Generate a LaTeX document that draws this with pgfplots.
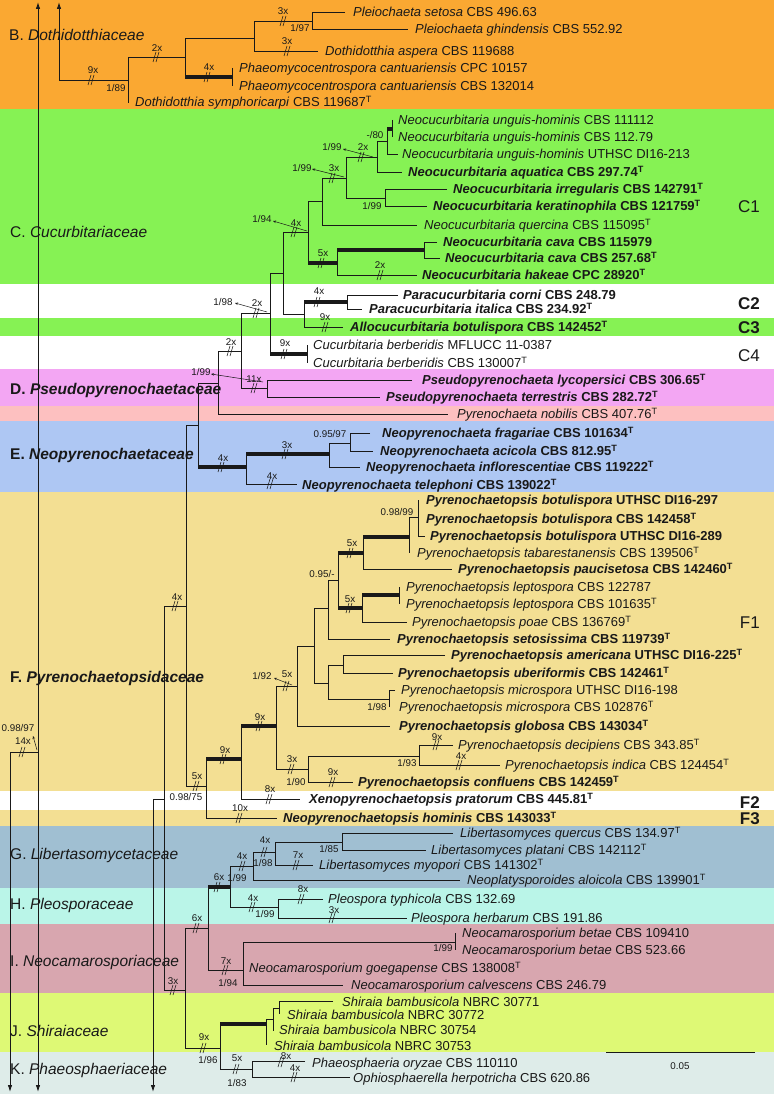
\documentclass[border=0pt]{standalone}
\usepackage{pgfplots}
\pgfplotsset{compat=1.18}
\usepackage{fontspec}
\setmainfont{Liberation Sans}
\usetikzlibrary{arrows.meta}
\definecolor{bB}{RGB}{250,168,50}
\definecolor{bC}{RGB}{134,242,84}
\definecolor{bD}{RGB}{243,166,243}
\definecolor{bDp}{RGB}{253,192,192}
\definecolor{bE}{RGB}{174,199,243}
\definecolor{bF}{RGB}{243,223,147}
\definecolor{bG}{RGB}{160,191,210}
\definecolor{bH}{RGB}{186,245,232}
\definecolor{bI}{RGB}{216,166,175}
\definecolor{bJ}{RGB}{222,249,117}
\definecolor{bK}{RGB}{222,236,233}
\definecolor{ink}{RGB}{25,25,25}
\tikzset{
  br/.style={line width=0.9pt,color=ink},
  tk/.style={line width=3.6pt,color=ink,line cap=butt},
  lbl/.style={anchor=base west,inner sep=0pt,yshift=-4.6pt,text=ink,font=\fontsize{13}{15}\selectfont},
  sup/.style={anchor=center,inner sep=0pt,text=ink,font=\fontsize{9.8}{11}\selectfont},
  fam/.style={anchor=base west,inner sep=0pt,yshift=-5.5pt,text=ink,font=\fontsize{15.5}{18}\selectfont},
  cl/.style={anchor=base east,inner sep=0pt,yshift=-6pt,text=ink,font=\fontsize{17}{20}\selectfont},
  sarr/.style={line width=0.5pt,color=ink,-{Stealth[length=3pt,width=2.5pt]}}
}
\pgfdeclareplotmark{dslash}{%
  \pgfpathmoveto{\pgfpoint{-3pt}{-5pt}}\pgfpathlineto{\pgfpoint{0pt}{5pt}}%
  \pgfpathmoveto{\pgfpoint{0pt}{-5pt}}\pgfpathlineto{\pgfpoint{3pt}{5pt}}%
  \pgfusepathqstroke}
\newcommand{\ty}{\textsuperscript{T}}
\newcommand{\nd}[5]{\addplot[br] coordinates {(#2,#3)(#1,#3)(#1,#4)(#5,#4)};}
\newcommand{\sg}[4]{\addplot[br] coordinates {(#1,#2)(#3,#4)};}
\newcommand{\tk}[3]{\addplot[tk] coordinates {(#1,#3)(#2,#3)};}
\newcommand{\band}[3]{\addplot[fill=#1,draw=none] coordinates {(0,#2)(774,#2)(774,#3)(0,#3)};}
\newcommand{\tx}[3]{\node[lbl] at (axis cs:#1,#2) {#3};}
\newcommand{\tb}[3]{\node[lbl,font=\fontsize{13}{15}\selectfont\bfseries] at (axis cs:#1,#2) {#3};}
\newcommand{\sm}[3]{\node[sup] at (axis cs:#1,#2) {#3};}
\begin{document}
\begin{tikzpicture}
\begin{axis}[width=774pt,height=1094pt,scale only axis,xmin=0,xmax=774,ymin=0,ymax=1094,y dir=reverse,hide axis,clip=false]
% bands
\band{bB}{0}{109}
\band{bC}{109}{284}
\band{white}{284}{318}
\band{bC}{318}{336}
\band{white}{336}{369}
\band{bD}{369}{406}
\band{bDp}{406}{421}
\band{bE}{421}{492}
\band{bF}{492}{791}
\band{white}{791}{810}
\band{bF}{810}{826}
\band{bG}{826}{888}
\band{bH}{888}{924}
\band{bI}{924}{993}
\band{bJ}{993}{1052}
\band{bK}{1052}{1094}
% root lines
\addplot[br,{Latex[length=7pt,width=4.5pt]}-{Latex[length=7pt,width=4.5pt]}] coordinates {(38,2)(38,1092)};
\addplot[br,{Latex[length=7pt,width=4.5pt]}-] coordinates {(59,2)(59,80)};
\addplot[br,-{Latex[length=7pt,width=4.5pt]}] coordinates {(10,752)(10,1092)};
\addplot[br,-{Latex[length=7pt,width=4.5pt]}] coordinates {(153,799)(153,1092)};
\sg{10}{752}{38}{752}
% B
\sg{59}{80}{128}{80}
\nd{128}{185}{57}{103}{128}
\nd{185}{254}{38}{77}{232}\tk{185}{232}{77}
\sg{232}{68}{232}{86}
\nd{254}{312}{21}{51}{318}
\nd{312}{345}{12}{29}{408}
% C
\sg{392}{120}{392}{137}
\nd{387}{392}{129}{154}{398}\tk{387}{392}{129}
\nd{377}{387}{141}{172}{402}
\nd{346}{377}{157}{198}{385}
\nd{385}{447}{189}{206}{427}
\nd{322}{346}{178}{225}{417}
\nd{308}{322}{201}{263}{337}\tk{308}{337}{263}
\nd{337}{424}{250}{275}{417}\tk{337}{424}{250}
\nd{424}{437}{242}{258}{440}
\nd{283}{308}{232}{314}{304}
\nd{304}{347}{302}{327}{343}\tk{304}{347}{302}
\nd{347}{398}{295}{309}{362}
\nd{270}{283}{273}{354}{307}\tk{270}{307}{354}
\sg{307}{345}{307}{363}
% D
\nd{241}{270}{313}{388}{267}
\nd{267}{412}{380}{397}{380}
\nd{218}{241}{351}{414}{448}
\nd{198}{218}{383}{467}{246}\tk{198}{246}{467}
% E
\nd{246}{329}{454}{484}{297}\tk{246}{329}{454}
\nd{329}{350}{443}{467}{360}
\nd{350}{370}{433}{451}{373}
% F
\nd{186}{198}{425}{786}{206}
\sg{164}{606}{186}{606}
\nd{164}{186}{606}{990}{185}
\sg{153}{799}{164}{799}
\nd{206}{241}{759}{818}{277}\tk{206}{241}{759}
\nd{241}{276}{726}{799}{300}\tk{241}{276}{726}
\nd{276}{297}{686}{769}{308}
\nd{308}{419}{756}{782}{353}
\nd{419}{453}{745}{765}{500}
\nd{297}{314}{646}{726}{390}
\nd{314}{328}{608}{683}{328}
\nd{328}{343}{665}{699}{389}
\nd{343}{445}{655}{673}{393}
\nd{389}{395}{690}{707}{389}
\nd{328}{338}{580}{639}{390}
\nd{338}{363}{553}{608}{362}\tk{338}{363}{553}\tk{338}{362}{608}
\nd{363}{409}{537}{569}{452}\tk{363}{409}{537}
\nd{409}{418}{517}{553}{409}
\nd{418}{418}{500}{536}{425}
\nd{362}{399}{595}{622}{407}\tk{362}{399}{595}
\sg{399}{587}{399}{604}
% G-K
\nd{185}{208}{928}{1048}{220}
\nd{208}{230}{887}{970}{243}\tk{208}{230}{887}
\nd{230}{253}{866}{907}{278}
\nd{253}{275}{852}{880}{460}
\nd{275}{342}{842}{865}{313}
\nd{342}{453}{833}{850}{426}
\nd{278}{323}{899}{918}{407}
\nd{243}{455}{942}{985}{343}
\sg{455}{933}{455}{950}
\nd{220}{266}{1024}{1069}{252}\tk{220}{266}{1024}
\nd{266}{273}{1019}{1045}{266}
\nd{273}{279}{1008}{1031}{273}
\nd{279}{333}{1001}{1014}{279}
\nd{252}{305}{1061}{1077}{350}
% scale bar
\addplot[br] coordinates {(606,1052)(755,1052)};
% branch breaks
\addplot[only marks,mark=dslash,line width=0.55pt,color=ink] coordinates {
(283,21)(287,51)(156,57)(91,80)(207,77)
(361,157)(332,178)(294,232)(321,263)(380,275)(317,302)(325,327)(284,354)(256,313)
(254,388)(230,351)
(285,454)(221,467)(270,484)
(350,553)(349,608)(286,686)(259,726)(223,759)(291,769)(332,782)(436,745)(459,765)(269,799)(239,818)(196,786)(175,606)(22,752)
(173,990)(196,928)(203,1048)(217,887)(225,970)(242,866)(252,907)(264,852)(296,865)(301,899)(332,918)(236,1069)(281,1062)(294,1077)};
% support arrows
\addplot[sarr] coordinates {(373,157)(343,149)};
\addplot[sarr] coordinates {(344,177)(312,169)};
\addplot[sarr] coordinates {(307,231)(273,221)};
\addplot[sarr] coordinates {(267,312)(235,303)};
\addplot[sarr] coordinates {(263,382)(211,374)};
\addplot[sarr] coordinates {(292,685)(274,678)};
\addplot[sarr] coordinates {(37,750)(33,736)};
% family labels
\node[fam] at (axis cs:9,35) {B. \textit{Dothidotthiaceae}};
\node[fam] at (axis cs:10,232) {C. \textit{Cucurbitariaceae}};
\node[fam,font=\fontsize{15.5}{18}\selectfont\bfseries] at (axis cs:10,389) {D. \textit{Pseudopyrenochaetaceae}};
\node[fam,font=\fontsize{15.5}{18}\selectfont\bfseries] at (axis cs:10,454) {E. \textit{Neopyrenochaetaceae}};
\node[fam,font=\fontsize{15.5}{18}\selectfont\bfseries] at (axis cs:10,677) {F. \textit{Pyrenochaetopsidaceae}};
\node[fam] at (axis cs:10,854) {G. \textit{Libertasomycetaceae}};
\node[fam] at (axis cs:10,904) {H. \textit{Pleosporaceae}};
\node[fam] at (axis cs:10,961) {I. \textit{Neocamarosporiaceae}};
\node[fam] at (axis cs:10,1031) {J. \textit{Shiraiaceae}};
\node[fam] at (axis cs:10,1069) {K. \textit{Phaeosphaeriaceae}};
% clade labels
\node[cl] at (axis cs:760,206) {C1};
\node[cl,font=\fontsize{17}{20}\selectfont\bfseries] at (axis cs:760,303) {C2};
\node[cl,font=\fontsize{17}{20}\selectfont\bfseries] at (axis cs:760,327) {C3};
\node[cl] at (axis cs:760,355) {C4};
\node[cl] at (axis cs:760,622) {F1};
\node[cl,font=\fontsize{17}{20}\selectfont\bfseries] at (axis cs:760,802) {F2};
\node[cl,font=\fontsize{17}{20}\selectfont\bfseries] at (axis cs:760,818) {F3};
% taxa B
\tx{353}{12}{\textit{Pleiochaeta setosa} CBS 496.63}
\tx{415}{29}{\textit{Pleiochaeta ghindensis} CBS 552.92}
\tx{325}{51}{\textit{Dothidotthia aspera} CBS 119688}
\tx{239}{68}{\textit{Phaeomycocentrospora cantuariensis} CPC 10157}
\tx{239}{86}{\textit{Phaeomycocentrospora cantuariensis} CBS 132014}
\tx{135}{102}{\textit{Dothidotthia symphoricarpi} CBS 119687\ty}
% taxa C
\tx{398}{120}{\textit{Neocucurbitaria unguis-hominis} CBS 111112}
\tx{398}{137}{\textit{Neocucurbitaria unguis-hominis} CBS 112.79}
\tx{402}{154}{\textit{Neocucurbitaria unguis-hominis} UTHSC DI16-213}
\tb{408}{172}{\textit{Neocucurbitaria aquatica} CBS 297.74\ty}
\tb{453}{189}{\textit{Neocucurbitaria irregularis} CBS 142791\ty}
\tb{433}{206}{\textit{Neocucurbitaria keratinophila} CBS 121759\ty}
\tx{424}{225}{\textit{Neocucurbitaria quercina} CBS 115095\ty}
\tb{443}{242}{\textit{Neocucurbitaria cava} CBS 115979}
\tb{445}{258}{\textit{Neocucurbitaria cava} CBS 257.68\ty}
\tb{422}{275}{\textit{Neocucurbitaria hakeae} CPC 28920\ty}
\tb{403}{295}{\textit{Paracucurbitaria corni} CBS 248.79}
\tb{369}{309}{\textit{Paracucurbitaria italica} CBS 234.92\ty}
\tb{350}{327}{\textit{Allocucurbitaria botulispora} CBS 142452\ty}
\tx{313}{345}{\textit{Cucurbitaria berberidis} MFLUCC 11-0387}
\tx{313}{363}{\textit{Cucurbitaria berberidis} CBS 130007\ty}
% taxa D,E
\tb{422}{380}{\textit{Pseudopyrenochaeta lycopersici} CBS 306.65\ty}
\tb{386}{397}{\textit{Pseudopyrenochaeta terrestris} CBS 282.72\ty}
\tx{457}{414}{\textit{Pyrenochaeta nobilis} CBS 407.76\ty}
\tb{382}{433}{\textit{Neopyrenochaeta fragariae} CBS 101634\ty}
\tb{380}{451}{\textit{Neopyrenochaeta acicola} CBS 812.95\ty}
\tb{366}{467}{\textit{Neopyrenochaeta inflorescentiae} CBS 119222\ty}
\tb{302}{485}{\textit{Neopyrenochaeta telephoni} CBS 139022\ty}
% taxa F
\tb{426}{500}{\textit{Pyrenochaetopsis botulispora} UTHSC DI16-297}
\tb{426}{519}{\textit{Pyrenochaetopsis botulispora} CBS 142458\ty}
\tb{430}{536}{\textit{Pyrenochaetopsis botulispora} UTHSC DI16-289}
\tx{417}{553}{\textit{Pyrenochaetopsis tabarestanensis} CBS 139506\ty}
\tb{458}{569}{\textit{Pyrenochaetopsis paucisetosa} CBS 142460\ty}
\tx{406}{587}{\textit{Pyrenochaetopsis leptospora} CBS 122787}
\tx{406}{604}{\textit{Pyrenochaetopsis leptospora} CBS 101635\ty}
\tx{412}{622}{\textit{Pyrenochaetopsis poae} CBS 136769\ty}
\tb{397}{639}{\textit{Pyrenochaetopsis setosissima} CBS 119739\ty}
\tb{451}{655}{\textit{Pyrenochaetopsis americana} UTHSC DI16-225\ty}
\tb{398}{673}{\textit{Pyrenochaetopsis uberiformis} CBS 142461\ty}
\tx{401}{690}{\textit{Pyrenochaetopsis microspora} UTHSC DI16-198}
\tx{399}{707}{\textit{Pyrenochaetopsis microspora} CBS 102876\ty}
\tb{399}{726}{\textit{Pyrenochaetopsis globosa} CBS 143034\ty}
\tx{458}{745}{\textit{Pyrenochaetopsis decipiens} CBS 343.85\ty}
\tx{505}{765}{\textit{Pyrenochaetopsis indica} CBS 124454\ty}
\tb{358}{782}{\textit{Pyrenochaetopsis confluens} CBS 142459\ty}
\tb{309}{799}{\textit{Xenopyrenochaetopsis pratorum} CBS 445.81\ty}
\tb{283}{818}{\textit{Neopyrenochaetopsis hominis} CBS 143033\ty}
% taxa G-K
\tx{460}{833}{\textit{Libertasomyces quercus} CBS 134.97\ty}
\tx{431}{850}{\textit{Libertasomyces platani} CBS 142112\ty}
\tx{319}{865}{\textit{Libertasomyces myopori} CBS 141302\ty}
\tx{467}{880}{\textit{Neoplatysporoides aloicola} CBS 139901\ty}
\tx{328}{899}{\textit{Pleospora typhicola} CBS 132.69}
\tx{411}{918}{\textit{Pleospora herbarum} CBS 191.86}
\tx{462}{933}{\textit{Neocamarosporium betae} CBS 109410}
\tx{462}{950}{\textit{Neocamarosporium betae} CBS 523.66}
\tx{249}{968}{\textit{Neocamarosporium goegapense} CBS 138008\ty}
\tx{351}{985}{\textit{Neocamarosporium calvescens} CBS 246.79}
\tx{342}{1002}{\textit{Shiraia bambusicola} NBRC 30771}
\tx{287}{1015}{\textit{Shiraia bambusicola} NBRC 30772}
\tx{279}{1030}{\textit{Shiraia bambusicola} NBRC 30754}
\tx{274}{1046}{\textit{Shiraia bambusicola} NBRC 30753}
\tx{312}{1063}{\textit{Phaeosphaeria oryzae} CBS 110110}
\tx{353}{1078}{\textit{Ophiosphaerella herpotricha} CBS 620.86}
% support values B
\sm{283}{11}{3x}\sm{300}{28}{1/97}\sm{287}{41}{3x}\sm{157}{48}{2x}\sm{93}{70}{9x}\sm{116}{88}{1/89}\sm{209}{67}{4x}
% C
\sm{375}{135}{-/80}\sm{363}{147}{2x}\sm{332}{147}{1/99}\sm{334}{168}{3x}\sm{302}{168}{1/99}\sm{372}{206}{1/99}
\sm{296}{223}{4x}\sm{262}{219}{1/94}\sm{323}{253}{5x}\sm{380}{265}{2x}\sm{319}{291}{4x}\sm{325}{317}{9x}
\sm{285}{343}{9x}\sm{257}{303}{2x}\sm{223}{302}{1/98}
% D E
\sm{254}{379}{11x}\sm{201}{372}{1/99}\sm{231}{342}{2x}
\sm{330}{434}{0.95/97}\sm{287}{445}{3x}\sm{223}{458}{4x}\sm{272}{476}{4x}
% F
\sm{397}{512}{0.98/99}\sm{352}{543}{5x}\sm{350}{599}{5x}\sm{322}{574}{0.95/-}
\sm{262}{676}{1/92}\sm{287}{674}{5x}\sm{260}{717}{9x}\sm{225}{750}{9x}\sm{292}{759}{3x}\sm{296}{782}{1/90}
\sm{333}{772}{9x}\sm{437}{737}{9x}\sm{461}{756}{4x}\sm{407}{763}{1/93}\sm{377}{707}{1/98}
\sm{270}{789}{8x}\sm{240}{808}{10x}\sm{197}{776}{5x}\sm{177}{597}{4x}\sm{186}{797}{0.98/75}
\sm{23}{741}{14x}\sm{18}{728}{0.98/97}
% G-K
\sm{173}{981}{3x}\sm{197}{918}{6x}\sm{204}{1037}{9x}\sm{208}{1060}{1/96}\sm{219}{877}{6x}
\sm{226}{961}{7x}\sm{228}{983}{1/94}\sm{242}{856}{4x}\sm{237}{878}{1/99}\sm{253}{898}{4x}\sm{265}{914}{1/99}
\sm{265}{840}{4x}\sm{263}{863}{1/98}\sm{298}{855}{7x}\sm{329}{849}{1/85}\sm{303}{889}{8x}\sm{334}{910}{3x}
\sm{443}{948}{1/99}\sm{237}{1058}{5x}\sm{237}{1083}{1/83}\sm{286}{1056}{8x}\sm{295}{1068}{4x}
\sm{680}{1066}{0.05}
\end{axis}
\end{tikzpicture}
\end{document}
